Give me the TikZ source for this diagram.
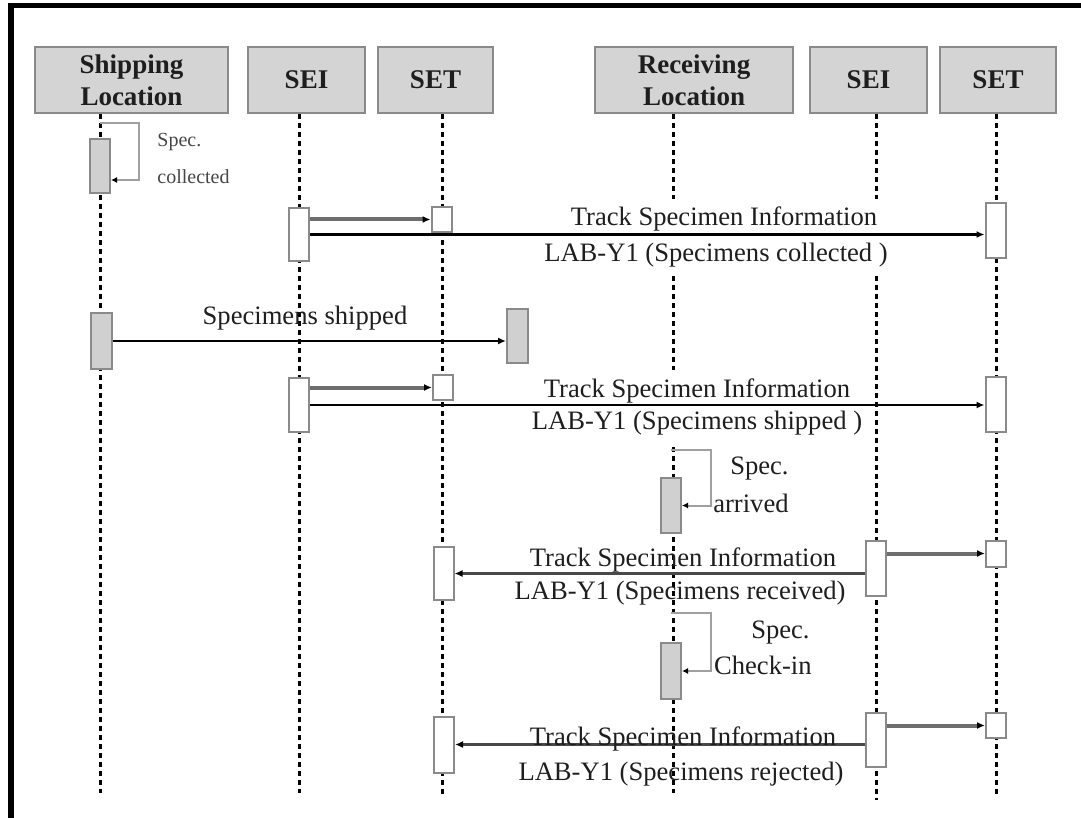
\documentclass[tikz,border=0pt]{standalone}
\usepackage{fontspec}
\setmainfont{Liberation Serif}
\usetikzlibrary{arrows.meta,calc}
\definecolor{headfill}{RGB}{212,212,212}
\definecolor{edgegray}{RGB}{138,138,138}
\definecolor{actfill}{RGB}{208,208,208}
\definecolor{shortgray}{RGB}{110,110,110}
\definecolor{backgray}{RGB}{72,72,72}
\definecolor{loopgray}{RGB}{160,160,160}
\definecolor{textdark}{RGB}{30,30,30}
\definecolor{notegray}{RGB}{70,70,70}

\begin{document}
\begin{tikzpicture}[x=0.5pt, y=-0.5pt,
  every node/.style={font=\fontsize{13.3}{15}\selectfont, inner sep=0pt, text=textdark},
  head/.style={draw=edgegray, line width=1.2pt, fill=headfill, minimum height=33pt, align=center, font=\fontsize{13.5}{16}\selectfont\bfseries},
  life/.style={line width=1.5pt, dash pattern=on 2.5pt off 2pt},
  act/.style={draw=edgegray, line width=1pt, fill=white, minimum width=10pt},
  actg/.style={act, fill=actfill},
  msgtxt/.style={anchor=base, inner sep=4pt},
  arr/.style={-{Latex[length=4pt,width=3.5pt]}, line width=1.4pt},
  sarr/.style={-{Latex[length=4pt,width=3.5pt,color=black]}, draw=shortgray, line width=2pt},
  barr/.style={-{Latex[length=4pt,width=3.5pt,color=black]}, draw=backgray, line width=1.8pt},
  selfarr/.style={-{Latex[length=3pt,width=3pt,color=black]}, draw=loopgray, line width=1pt}
]
  \useasboundingbox (0,0) rectangle (1081,818);
  \fill (8,3) rectangle (1081,8);
  \fill (8,3) rectangle (14,818);

  \node[head, minimum width=96.5pt] (ship) at (131.5,80) {Shipping\\Location};
  \node[head, minimum width=58.5pt] (sei1) at (306.5,80) {SEI};
  \node[head, minimum width=57.5pt] (set1) at (435.5,80) {SET};
  \node[head, minimum width=99pt]   (rcv)  at (694,80)   {Receiving\\Location};
  \node[head, minimum width=58.5pt] (sei2) at (868.5,80) {SEI};
  \node[head, minimum width=58pt]   (set2) at (998,80)   {SET};

  \coordinate (ship-end) at (100,793);
  \coordinate (sei1-end) at (299,793);
  \coordinate (set1-end) at (442,795);
  \coordinate (rcv-end)  at (673,793);
  \coordinate (sei2-end) at (876,800);
  \coordinate (set2-end) at (996,795);

  \draw[life] (ship.south -| ship-end) -- (ship-end);
  \draw[life] (sei1.south -| sei1-end) -- (sei1-end);
  \draw[life] (set1.south -| set1-end) -- (set1-end);
  \draw[life] (rcv.south -| rcv-end) -- (rcv-end);
  \draw[life] (sei2.south -| sei2-end) -- (sei2-end);
  \draw[life] (set2.south -| set2-end) -- (set2-end);

  \node[msgtxt, fill=white] (t1a) at (724,226) {Track Specimen Information};
  \node[msgtxt, fill=white] (t1b) at (716,262) {LAB-Y1 (Specimens collected )};
  \node[msgtxt, fill=white] (t3a) at (697,397) {Track Specimen Information};
  \node[msgtxt, fill=white] (t3b) at (697,429) {LAB-Y1 (Specimens shipped )};

  \node[actg, minimum height=27pt] (shipa1) at (100,166) {};
  \node[act, minimum height=26.5pt] (sei1a) at (299,234.5) {};
  \node[act, minimum height=12.5pt] (set1a) at (441.5,219.5) {};
  \node[act, minimum height=27.5pt] (set2a) at (995.5,230.5) {};
  \node[actg, minimum height=28pt, minimum width=10.5pt] (shipa2) at (101.5,341) {};
  \node[actg, minimum height=27pt, minimum width=10.5pt] (drop) at (517.5,336) {};
  \node[act, minimum height=27pt] (sei1b) at (298.5,405) {};
  \node[act, minimum height=12.5pt] (set1b) at (443,387.5) {};
  \node[act, minimum height=27.5pt] (set2b) at (995.5,404.5) {};
  \node[actg, minimum height=27.5pt] (rcva1) at (671,505.5) {};
  \node[act, minimum height=27.5pt] (sei2a) at (875.5,568) {};
  \node[act, minimum height=13pt] (set2c) at (996,553.5) {};
  \node[act, minimum height=26.5pt] (set1c) at (443.5,573.5) {};
  \node[actg, minimum height=28pt] (rcva2) at (671,671) {};
  \node[act, minimum height=27pt] (sei2b) at (876,740) {};
  \node[act, minimum height=12.5pt] (set2d) at (996,725.5) {};
  \node[act, minimum height=28pt] (set1d) at (444,744.5) {};

  \draw[selfarr] ([yshift=7.5pt]shipa1.north) -| ([xshift=14pt,yshift=-7pt]shipa1.east) -- ([yshift=-7pt]shipa1.east);
  \node[msgtxt, anchor=base west, font=\fontsize{10}{12}\selectfont, text=notegray] (s1a) at (149,147) {Spec.};
  \node[msgtxt, anchor=base west, font=\fontsize{10}{12}\selectfont, text=notegray] (s1b) at (149,184) {collected};

  \draw[sarr] (sei1a.east |- set1a.west) -- (set1a.west);
  \draw[arr] (sei1a.east) -- (sei1a.east -| set2a.west);

  \draw[arr] (shipa2.east) -- (shipa2.east -| drop.west);
  \node[msgtxt] (t2) at (305,324) {Specimens shipped};

  \draw[sarr] (sei1b.east |- set1b.west) -- (set1b.west);
  \draw[arr] (sei1b.east) -- (sei1b.east -| set2b.west);

  \draw[selfarr] ([yshift=13.5pt]rcva1.north) -| ([xshift=14.5pt]rcva1.east) -- (rcva1.east);
  \node[msgtxt, anchor=base east] (s2a) at (797,474) {Spec.};
  \node[msgtxt, anchor=base east] (s2b) at (797,512) {arrived};

  \draw[sarr] (sei2a.east |- set2c.west) -- (set2c.west);
  \draw[barr] (sei2a.west |- set1c.east) -- (set1c.east);
  \node[msgtxt] (t4a) at (683,566) {Track Specimen Information};
  \node[msgtxt] (t4b) at (680,599) {LAB-Y1 (Specimens received)};

  \draw[selfarr] ([yshift=14.5pt]rcva2.north) -| ([xshift=14.5pt]rcva2.east) -- (rcva2.east);
  \node[msgtxt, anchor=base east] (s3a) at (818,638) {Spec.};
  \node[msgtxt, anchor=base east] (s3b) at (820,674) {Check-in};

  \draw[sarr] (sei2b.east |- set2d.west) -- (set2d.west);
  \draw[barr] (sei2b.west |- set1d.east) -- (set1d.east);
  \node[msgtxt] (t5a) at (683,745) {Track Specimen Information};
  \node[msgtxt] (t5b) at (681,780) {LAB-Y1 (Specimens rejected)};
\end{tikzpicture}
\end{document}
